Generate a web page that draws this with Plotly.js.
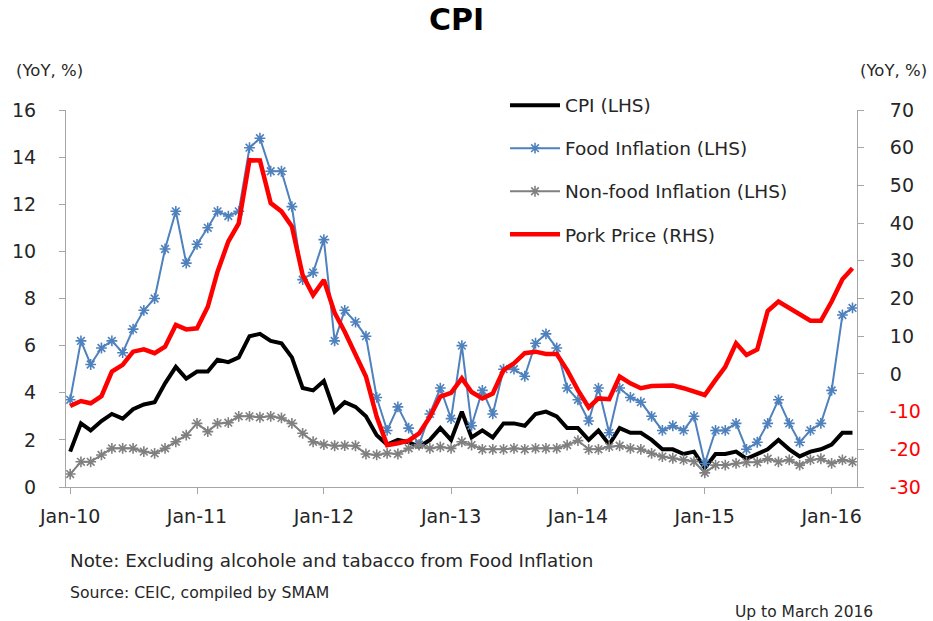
<!DOCTYPE html>
<html>
<head>
<meta charset="utf-8">
<script src="https://cdn.plot.ly/plotly-3.0.1.min.js"></script>
<style>html,body{margin:0;padding:0;background:#fff;}#chart{width:933px;height:621px;}</style>
</head>
<body>
<div id="chart"></div>
<script>
const months = [
 "2010-01","2010-02","2010-03","2010-04","2010-05","2010-06","2010-07","2010-08","2010-09","2010-10","2010-11","2010-12",
 "2011-01","2011-02","2011-03","2011-04","2011-05","2011-06","2011-07","2011-08","2011-09","2011-10","2011-11","2011-12",
 "2012-01","2012-02","2012-03","2012-04","2012-05","2012-06","2012-07","2012-08","2012-09","2012-10","2012-11","2012-12",
 "2013-01","2013-02","2013-03","2013-04","2013-05","2013-06","2013-07","2013-08","2013-09","2013-10","2013-11","2013-12",
 "2014-01","2014-02","2014-03","2014-04","2014-05","2014-06","2014-07","2014-08","2014-09","2014-10","2014-11","2014-12",
 "2015-01","2015-02","2015-03","2015-04","2015-05","2015-06","2015-07","2015-08","2015-09","2015-10","2015-11","2015-12",
 "2016-01","2016-02","2016-03"
];

const cpi = [
 1.5,2.7,2.4,2.8,3.1,2.9,3.3,3.5,3.6,4.4,5.1,4.6,
 4.9,4.9,5.4,5.3,5.5,6.4,6.5,6.2,6.1,5.5,4.2,4.1,
 4.5,3.2,3.6,3.4,3.0,2.2,1.8,2.0,1.9,1.7,2.0,2.5,
 2.0,3.2,2.1,2.4,2.1,2.7,2.7,2.6,3.1,3.2,3.0,2.5,
 2.5,2.0,2.4,1.8,2.5,2.3,2.3,2.0,1.6,1.6,1.4,1.5,
 0.8,1.4,1.4,1.5,1.2,1.4,1.6,2.0,1.6,1.3,1.5,1.6,
 1.8,2.3,2.3
];

const food = [
 3.7,6.2,5.2,5.9,6.2,5.7,6.7,7.5,8.0,10.1,11.7,9.5,
 10.3,11.0,11.7,11.5,11.7,14.4,14.8,13.4,13.4,11.9,8.8,9.1,
 10.5,6.2,7.5,7.0,6.4,3.8,2.4,3.4,2.5,1.8,3.1,4.2,
 2.9,6.0,2.6,4.1,3.1,5.0,5.0,4.7,6.1,6.5,5.9,4.2,
 3.7,2.8,4.2,2.3,4.2,3.8,3.6,3.0,2.4,2.6,2.4,3.0,
 1.0,2.4,2.4,2.7,1.6,1.9,2.7,3.7,2.7,1.9,2.4,2.7,
 4.1,7.3,7.6
];

const nonFood = [
 0.55,1.07,1.07,1.36,1.64,1.64,1.64,1.5,1.43,1.64,1.92,2.2,
 2.7,2.35,2.7,2.73,3.0,3.0,2.96,3.0,2.93,2.7,2.28,1.92,
 1.8,1.75,1.76,1.75,1.4,1.36,1.43,1.4,1.64,1.78,1.64,1.7,
 1.64,1.92,1.78,1.6,1.6,1.6,1.64,1.6,1.64,1.64,1.64,1.78,
 1.97,1.6,1.6,1.71,1.75,1.64,1.6,1.43,1.29,1.22,1.15,1.08,
 0.6,0.93,0.93,1.0,1.05,1.05,1.2,1.07,1.15,0.93,1.15,1.2,
 1.0,1.15,1.07
];

const pork = [
 -8.5,-7.2,-7.8,-5.9,0.6,2.4,5.9,6.5,5.5,7.2,13.0,11.8,
 12.1,17.8,27.1,35.1,39.9,56.7,56.6,45.3,43.1,39.1,26.2,20.9,
 24.9,16.2,11.2,5.0,-0.7,-11.4,-18.9,-18.4,-17.7,-15.8,-11.4,-6.0,
 -5.0,-1.2,-4.8,-6.5,-5.2,1.0,2.8,5.5,5.9,5.3,5.3,1.0,
 -4.3,-8.9,-6.5,-6.7,-0.7,-2.5,-3.8,-3.2,-3.1,-3.1,-3.8,-4.8,
 -5.6,-1.6,1.9,8.1,5.0,6.5,16.7,19.2,17.4,15.9,14.1,14.1,
 19.2,25.1,28.0
];

const xTickVals = ["2010-01-01","2011-01-01","2012-01-01","2013-01-01","2014-01-01","2015-01-01","2016-01-01"];
const xTickText = ["Jan-10","Jan-11","Jan-12","Jan-13","Jan-14","Jan-15","Jan-16"];
const leftTicks = [0,2,4,6,8,10,12,14,16];
const rightTicks = [-30,-20,-10,0,10,20,30,40,50,60,70];
const seriesNames = ["CPI (LHS)","Food Inflation (LHS)","Non-food Inflation (LHS)","Pork Price (RHS)"];

const FONT = "DejaVu Sans, Verdana, sans-serif";
const rightText = rightTicks.map(v => v < 0 ? '<span style="color:#FF0000">' + v + '</span>' : String(v));

const traces = [
 {x: months, y: cpi, name: seriesNames[0], type: 'scatter', mode: 'lines', legendgroup: 'a',
  line: {color: '#000000', width: 4}},
 {x: months, y: food, name: seriesNames[1], type: 'scatter', mode: 'lines+markers', legendgroup: 'b',
  line: {color: '#4F81BD', width: 2}, marker: {symbol: 'asterisk-open', size: 9, line: {color: '#4F81BD', width: 1.6}, color: '#4F81BD'}},
 {x: months, y: nonFood, name: seriesNames[2], type: 'scatter', mode: 'lines+markers', legendgroup: 'c',
  line: {color: '#808080', width: 2}, marker: {symbol: 'asterisk-open', size: 9, line: {color: '#808080', width: 1.6}, color: '#808080'}},
 {x: months, y: pork, name: seriesNames[3], type: 'scatter', mode: 'lines', yaxis: 'y2', legendgroup: 'd',
  line: {color: '#FF0000', width: 4.5}}
];

const axisCol = '#A6A6A6';
const layout = {
 width: 933, height: 621,
 margin: {l: 66, r: 76, t: 110, b: 134, pad: 0},
 paper_bgcolor: '#ffffff', plot_bgcolor: '#ffffff',
 font: {family: FONT, color: '#262626', size: 17},
 showlegend: true,
 legend: {x: 0.555, xanchor: 'left', y: 1.062, yanchor: 'top', bgcolor: 'rgba(0,0,0,0)',
  font: {family: FONT, size: 18.5, color: '#262626'}, tracegroupgap: 16, itemwidth: 50, traceorder: 'grouped'},
 xaxis: {type: 'date', range: ['2009-12-20', '2016-03-14'], tickmode: 'array', tickvals: xTickVals, ticktext: xTickText,
  showline: true, linecolor: axisCol, linewidth: 1, ticks: 'outside', ticklen: 6, tickcolor: axisCol,
  showgrid: false, zeroline: false, tickfont: {family: FONT, size: 19, color: '#262626'}, ticklabelstandoff: 6},
 yaxis: {range: [0, 16], tickmode: 'array', tickvals: leftTicks, showline: true, linecolor: axisCol, linewidth: 1,
  ticks: 'outside', ticklen: 6, tickcolor: axisCol, showgrid: false, zeroline: false,
  tickfont: {family: FONT, size: 19, color: '#262626'}, ticklabelstandoff: 19},
 yaxis2: {range: [-30, 70], overlaying: 'y', side: 'right', tickmode: 'array', tickvals: rightTicks, ticktext: rightText,
  showline: true, linecolor: axisCol, linewidth: 1, ticks: 'outside', ticklen: 6, tickcolor: axisCol,
  showgrid: false, zeroline: false, tickfont: {family: FONT, size: 19, color: '#262626'}, ticklabelstandoff: 22},
 annotations: [
  {text: '<b>CPI</b>', xref: 'paper', yref: 'paper', x: (456 - 66) / 791, y: (487 - 20) / 377,
   showarrow: false, xanchor: 'center', yanchor: 'middle', font: {family: FONT, size: 30, color: '#000000'}},
  {text: '(YoY, %)', xref: 'paper', yref: 'paper', x: (14 - 66) / 791, y: (487 - 70) / 377, showarrow: false,
   xanchor: 'left', yanchor: 'middle', font: {family: FONT, size: 16.5, color: '#262626'}},
  {text: '(YoY, %)', xref: 'paper', yref: 'paper', x: (929 - 66) / 791, y: (487 - 70) / 377, showarrow: false,
   xanchor: 'right', yanchor: 'middle', font: {family: FONT, size: 16.5, color: '#262626'}},
  {text: 'Note: Excluding alcohole and tabacco from Food Inflation', xref: 'paper', yref: 'paper', x: (68 - 66) / 791,
   y: (487 - 560) / 377, showarrow: false, xanchor: 'left', yanchor: 'middle', font: {family: FONT, size: 18.3, color: '#262626'}},
  {text: 'Source: CEIC, compiled by SMAM', xref: 'paper', yref: 'paper', x: (68 - 66) / 791,
   y: (487 - 592) / 377, showarrow: false, xanchor: 'left', yanchor: 'middle', font: {family: FONT, size: 15.7, color: '#262626'}},
  {text: 'Up to March 2016', xref: 'paper', yref: 'paper', x: (875 - 66) / 791,
   y: (487 - 612) / 377, showarrow: false, xanchor: 'right', yanchor: 'middle', font: {family: FONT, size: 15.5, color: '#262626'}}
 ]
};

Plotly.newPlot('chart', traces, layout, {displayModeBar: false, staticPlot: true});
</script>
</body>
</html>
